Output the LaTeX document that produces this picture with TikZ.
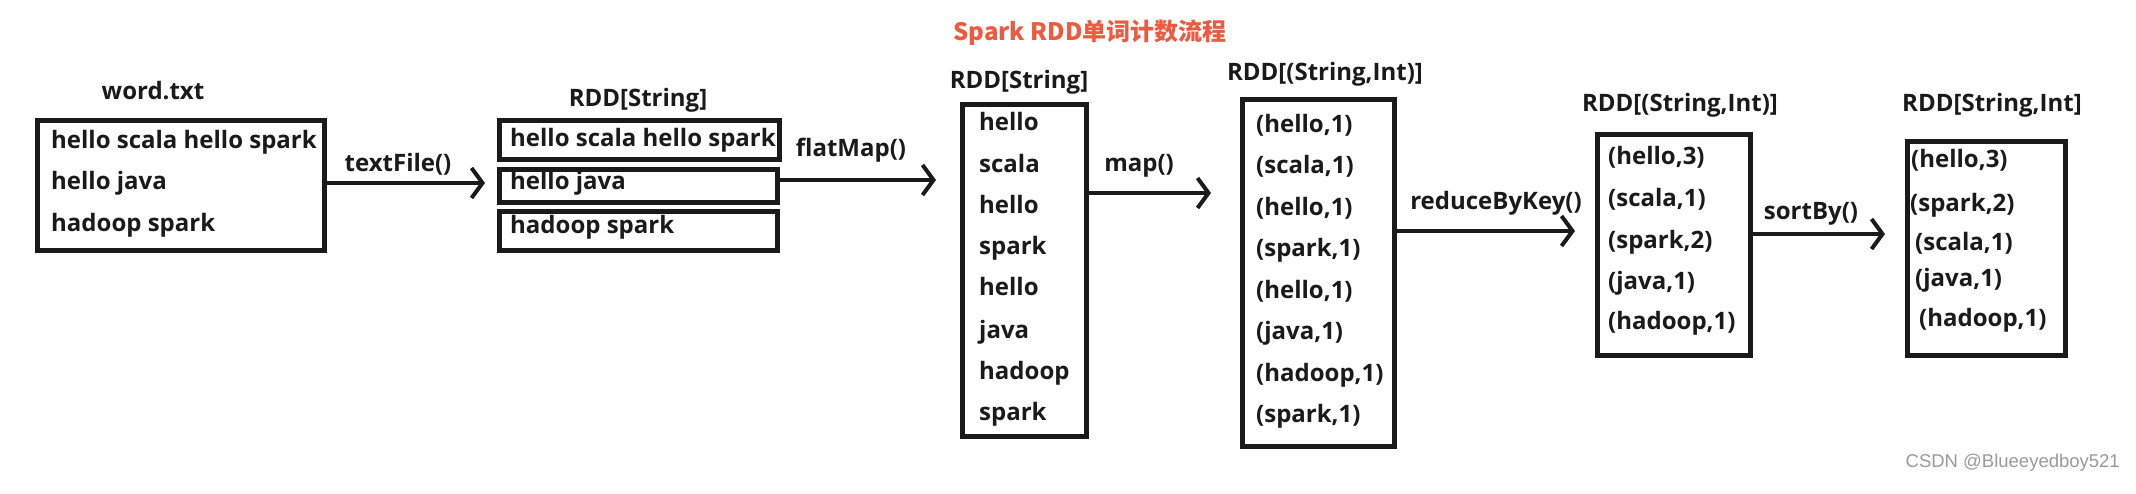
\documentclass[tikz,border=0pt]{standalone}
\usepackage{fontspec}
\setmainfont{Open Sans}
\newfontfamily\cjkfont{Noto Sans CJK SC}
\newfontfamily\wmfont{Liberation Sans}
\usetikzlibrary{arrows.meta}
\definecolor{titlered}{HTML}{EE5A40}
\definecolor{wmgray}{HTML}{9A9A9A}
\definecolor{ink}{HTML}{1A1A1A}
\begin{document}
\begin{tikzpicture}[x=1pt,y=-1pt,
  font=\bfseries\fontsize{24}{28}\selectfont, text=ink,
  box/.style={draw=ink, line width=4.5pt, inner sep=0pt, anchor=north west},
  item/.style={anchor=west, inner sep=0pt, text height=18pt, text depth=5pt},
  lbl/.style={inner sep=0pt, text height=18pt, text depth=5pt},
  arr/.style={draw=ink, line width=4pt, -{Straight Barb[length=11pt,width=30pt]}}]
\useasboundingbox[fill=white] (0,0) rectangle (2136,493);

% title
\node[font=\cjkfont\bfseries\fontsize{24}{28}\selectfont, text=titlered] (title) at (1090,33) {Spark RDD单词计数流程};

% box 1
\node[lbl] (l1) at (153,93) {word.txt};
\node[box, minimum width=287pt, minimum height=130pt] (b1) at (35,118) {};
\node[item] (t11) at (51,142) {hello scala hello spark};
\node[item] (t12) at (51,183) {hello java};
\node[item] (t13) at (51,225) {hadoop spark};

% box 2
\node[lbl] (l2) at (638,100) {RDD[String]};
\node[box, minimum width=280pt, minimum height=39pt] (b2a) at (497,118) {};
\node[box, minimum width=278pt, minimum height=33pt] (b2b) at (497,167) {};
\node[box, minimum width=278pt, minimum height=39pt] (b2c) at (497,209) {};
\node[item] (t21) at (510,140) {hello scala hello spark};
\node[item] (t22) at (510,183) {hello java};
\node[item] (t23) at (510,227) {hadoop spark};

% box 3
\node[lbl] (l3) at (1019,82) {RDD[String]};
\node[box, minimum width=124pt, minimum height=332pt] (b3) at (960,102) {};
\node[item] (t31) at (979,124) {hello};
\node[item] (t32) at (979,166) {scala};
\node[item] (t33) at (979,207) {hello};
\node[item] (t34) at (979,248) {spark};
\node[item] (t35) at (979,289) {hello};
\node[item] (t36) at (979,332) {java};
\node[item] (t37) at (979,373) {hadoop};
\node[item] (t38) at (979,414) {spark};

% box 4
\node[lbl] (l4) at (1325,74) {RDD[(String,Int)]};
\node[box, minimum width=152pt, minimum height=347pt] (b4) at (1240,97) {};
\node[item] (t41) at (1256,126) {(hello,1)};
\node[item] (t42) at (1256,167) {(scala,1)};
\node[item] (t43) at (1256,209) {(hello,1)};
\node[item] (t44) at (1256,250) {(spark,1)};
\node[item] (t45) at (1256,292) {(hello,1)};
\node[item] (t46) at (1256,333) {(java,1)};
\node[item] (t47) at (1256,375) {(hadoop,1)};
\node[item] (t48) at (1256,416) {(spark,1)};

% box 5
\node[lbl] (l5) at (1680,105) {RDD[(String,Int)]};
\node[box, minimum width=153pt, minimum height=221pt] (b5) at (1595,132) {};
\node[item] (t51) at (1608,158) {(hello,3)};
\node[item] (t52) at (1608,200) {(scala,1)};
\node[item] (t53) at (1608,242) {(spark,2)};
\node[item] (t54) at (1608,283) {(java,1)};
\node[item] (t55) at (1608,323) {(hadoop,1)};

% box 6
\node[lbl] (l6) at (1992,105) {RDD[String,Int]};
\node[box, minimum width=158pt, minimum height=214pt] (b6) at (1905,139) {};
\node[item] (t61) at (1911,161) {(hello,3)};
\node[item] (t62) at (1910,205) {(spark,2)};
\node[item] (t63) at (1915,244) {(scala,1)};
\node[item] (t64) at (1915,280) {(java,1)};
\node[item] (t65) at (1919,320) {(hadoop,1)};

% connector ends
\coordinate (e1) at (485,183);
\coordinate (e2) at (936,180);
\coordinate (e3) at (1211,193);
\coordinate (e4) at (1575,231);
\coordinate (e5) at (1885,234);

\draw[arr] (b1.east |- e1) -- (e1);
\draw[arr] (b2b.east |- e2) -- (e2);
\draw[arr] (b3.east |- e3) -- (e3);
\draw[arr] (b4.east |- e4) -- (e4);
\draw[arr] (b5.east |- e5) -- (e5);

% connector labels
\node[lbl] (a1) at (398,165) {textFile()};
\node[lbl] (a2) at (851,150) {flatMap()};
\node[lbl] (a3) at (1139,165) {map()};
\node[lbl] (a4) at (1496,203) {reduceByKey()};
\node[lbl] (a5) at (1811,213) {sortBy()};

% watermark
\node[anchor=east, inner sep=0pt, font=\wmfont\mdseries\fontsize{18.5}{22}\selectfont, text=wmgray] (wm) at (2120,463) {CSDN @Blueeyedboy521};
\end{tikzpicture}
\end{document}
